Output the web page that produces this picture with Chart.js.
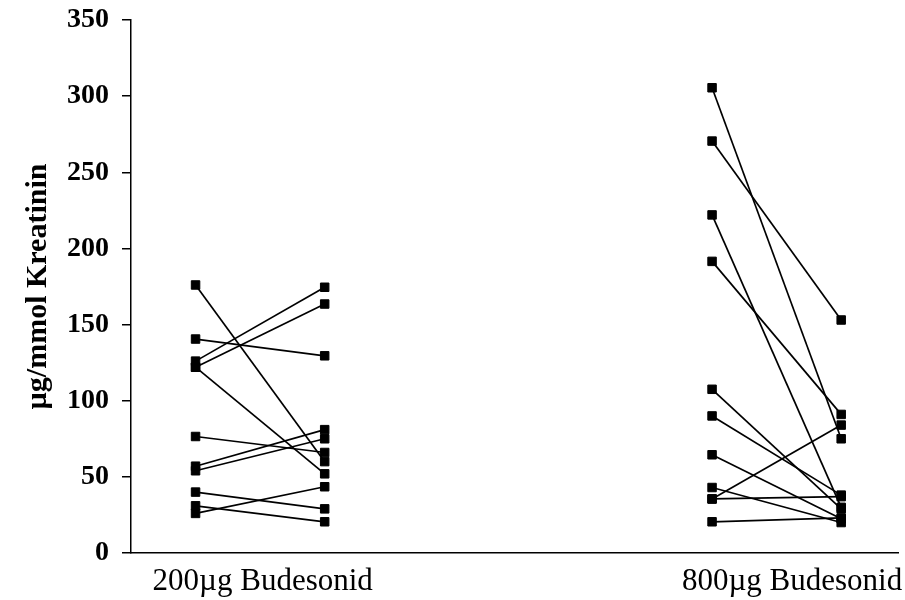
<!DOCTYPE html>
<html><head><meta charset="utf-8">
<script src="https://cdn.jsdelivr.net/npm/chart.js@4"></script>
<style>html,body{margin:0;padding:0;background:#fff;overflow:hidden}canvas{display:block}</style>
</head><body>
<canvas id="c" width="905" height="600"></canvas>
<script>
const categories = ['200µg Budesonid', '800µg Budesonid'];
const yTicks = [0, 50, 100, 150, 200, 250, 300, 350];
const dose200Before = [176, 140.5, 126, 122, 122, 76.5, 57, 54, 40, 31, 26];
const dose200After  = [60, 129.5, 174.5, 163.5, 52, 66, 81, 75, 29, 20.5, 43.5];
const dose800Before = [305.5, 270.5, 222, 191.5, 107.5, 90, 64.5, 43, 35.5, 35.5, 20.5];
const dose800After  = [75, 153, 30, 91, 29, 38, 22.5, 20, 37, 84, 23];

const categoryCenters = [1, 5];
const labelPositions = [1.02, 5.12];
const groups = [[dose200Before, dose200After], [dose800Before, dose800After]];

const datasets = [];
groups.forEach((g, gi) => {
  const c = categoryCenters[gi];
  g[0].forEach((v, i) => {
    datasets.push({
      data: [{x: c - 0.5, y: v}, {x: c + 0.5, y: g[1][i]}],
      borderColor: '#000',
      backgroundColor: '#000',
      borderWidth: 1.7,
      pointStyle: 'rect',
      pointRadius: 6,
      pointBorderWidth: 1,
      pointBorderColor: '#000',
      pointBackgroundColor: '#000',
      showLine: true,
      fill: false,
      tension: 0
    });
  });
});

new Chart(document.getElementById('c'), {
  type: 'line',
  data: {datasets},
  options: {
    responsive: false,
    animation: false,
    devicePixelRatio: 1,
    layout: {padding: {top: 20, right: 0, left: 0, bottom: 0}},
    plugins: {legend: {display: false}, tooltip: {enabled: false}},
    scales: {
      x: {
        type: 'linear',
        min: 0, max: 5.94,
        afterBuildTicks: s => { s.ticks = labelPositions.map(v => ({value: v})); },
        afterFit: s => { s.height = 47; s.paddingLeft = 0; s.paddingRight = 0; },
        ticks: {
          callback: v => { const k = labelPositions.indexOf(v); return k >= 0 ? categories[k] : ''; },
          font: {family: 'Liberation Serif', size: 31},
          color: '#000', padding: 10, maxRotation: 0, autoSkip: false
        },
        grid: {display: false, drawTicks: false},
        border: {display: true, color: '#000', width: 1.5}
      },
      y: {
        type: 'linear',
        min: 0, max: 350,
        afterBuildTicks: s => { s.ticks = yTicks.map(v => ({value: v})); },
        afterFit: s => { s.width = 131; s.paddingTop = 0; s.paddingBottom = 0; },
        ticks: {
          font: {family: 'Liberation Serif', size: 28, weight: 'bold'},
          color: '#000', padding: 13
        },
        grid: {drawOnChartArea: false, drawTicks: true, tickLength: 9, color: '#000', lineWidth: 1.5},
        border: {display: true, color: '#000', width: 1.5},
        title: {
          display: true,
          text: 'µg/mmol Kreatinin',
          font: {family: 'Liberation Serif', size: 30, weight: 'bold'},
          color: '#000',
          padding: {top: 20, bottom: 0}
        }
      }
    }
  }
});
</script>
</body></html>
